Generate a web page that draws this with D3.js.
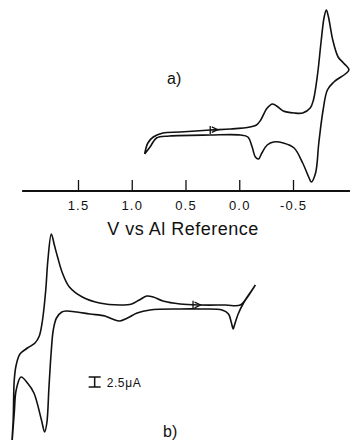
<!DOCTYPE html>
<html>
<head>
<meta charset="utf-8">
<script src="https://cdn.jsdelivr.net/npm/d3@7"></script>
<style>
  html, body { margin: 0; padding: 0; background: #fff; }
  svg { display: block; }
  text { font-family: "Liberation Sans", Arial, Helvetica, sans-serif; fill: #111; }
</style>
</head>
<body>
<svg id="chart" width="350" height="440"></svg>
<script>
// ---- Data (potential in V vs Al reference, current in microamps, cathodic up) ----
// Trace a) : starts at left vertex, upper branch to right vertex, lower branch back
const aPotential = [0.88, 0.85, 0.80, 0.71, 0.55, 0.27, 0.08, -0.10, -0.16, -0.20, -0.26, -0.31, -0.36, -0.41, -0.51, -0.59, -0.66, -0.69, -0.73, -0.76, -0.79, -0.81, -0.83, -0.87, -0.92, -0.97, -1.02,
                    -0.88, -0.82, -0.78, -0.74, -0.71, -0.67, -0.65, -0.59, -0.51, -0.41, -0.32, -0.26, -0.21, -0.18, -0.15, -0.12, -0.08, -0.01, 0.27, 0.65, 0.77, 0.83, 0.88];
const aCurrent   = [-5.25, -2.5, -1.0, 0.0, 0.25, 0.75, 1.0, 1.5, 2.0, 3.25, 6.25, 7.25, 6.5, 5.5, 5.0, 5.0, 6.25, 8.25, 15.0, 22.5, 29.0, 30.75, 29.0, 23.25, 19.0, 17.5, 15.75,
                    12.75, 10.75, 5.75, -2.5, -10.0, -12.25, -11.25, -7.5, -3.75, -2.5, -2.25, -3.0, -5.0, -6.5, -6.0, -3.5, -1.0, -0.5, -0.5, -0.75, -1.25, -3.5, -5.25];

// Trace b) : from negative end, cathodic spike, lower branch to positive vertex, upper branch back
const bPotential = [-0.15, -0.09, -0.04, 0.01, 0.047, 0.056, 0.075, 0.10, 0.16, 0.36, 0.55, 0.83, 0.95, 1.04, 1.11, 1.18, 1.25, 1.39, 1.51, 1.61, 1.65, 1.70, 1.73, 1.75, 1.77, 1.79, 1.81, 1.84, 1.91, 1.97, 2.03, 2.075, 2.093, 2.12,
                    2.103, 2.093, 2.075, 2.04, 1.97, 1.90, 1.86, 1.83, 1.80, 1.78, 1.748, 1.72, 1.69, 1.645, 1.58, 1.46, 1.30, 1.11, 1.00, 0.93, 0.86, 0.80, 0.71, 0.55, 0.36, 0.13, -0.01, -0.08, -0.15];
const bCurrent   = [5.5, 3.0, 1.0, -1.75, -4.75, -5.5, -3.75, -1.75, -0.75, -0.5, -0.5, -0.75, -1.5, -2.75, -3.5, -3.0, -2.25, -1.75, -1.25, -1.0, -1.25, -2.75, -5.75, -11.5, -20.0, -29.0, -31.25, -28.25, -21.5, -19.0, -17.5, -20.75, -26.5, -36.0,
                    -28.25, -18.25, -14.5, -11.75, -10.25, -9.0, -7.25, -3.25, 4.25, 11.75, 18.25, 15.5, 12.5, 8.5, 5.0, 2.5, 1.0, 0.5, 0.75, 1.75, 2.75, 2.5, 1.5, 0.75, 0.5, 0.5, 0.5, 2.75, 5.5];

// Start-of-scan markers (potential of tick, potential of arrow head)
const aStart = [0.27, 0.20];
const bStart = [0.43, 0.36];

// Axis ticks
const tickValues = [1.5, 1.0, 0.5, 0.0, -0.5];
const tickLabels = ["1.5", "1.0", "0.5", "0.0", "-0.5"];
const axisExtent = [2.02, -1.03];
const axisTitle = "V vs Al Reference";

// Scale bar (microamps)
const scaleBarValue = 2.5;
const scaleBarLabel = "2.5\u03BCA";
const panelLabels = ["a)", "b)"];

// ---- Drawing ----
const svg = d3.select("#chart");

const x = d3.scaleLinear().domain([1.5, -0.5]).range([78, 293]);
const yA = d3.scaleLinear().domain([0, 30]).range([133, 13]);
const yB = d3.scaleLinear().domain([0, 30]).range([307, 187]);

const lineA = d3.line().x(d => x(d[0])).y(d => yA(d[1])).curve(d3.curveCatmullRom.alpha(0.5));
const lineB = d3.line().x(d => x(d[0])).y(d => yB(d[1])).curve(d3.curveCatmullRom.alpha(0.5));

svg.append("path")
  .attr("d", lineA(d3.zip(aPotential, aCurrent)))
  .attr("fill", "none").attr("stroke", "#111").attr("stroke-width", 1.6)
  .attr("stroke-linejoin", "round");

svg.append("path")
  .attr("d", lineB(d3.zip(bPotential, bCurrent)))
  .attr("fill", "none").attr("stroke", "#111").attr("stroke-width", 1.6)
  .attr("stroke-linejoin", "round");

// start markers and arrows
function startMarker(start, pot, cur, y) {
  const interp = v => {
    // linear interpolation along the first (upper) branch
    for (let k = 0; k < pot.length - 1; k++) {
      const p0 = pot[k], p1 = pot[k + 1];
      if ((v - p0) * (v - p1) <= 0 && p0 !== p1) {
        const t = (v - p0) / (p1 - p0);
        return cur[k] + t * (cur[k + 1] - cur[k]);
      }
    }
    return 0;
  };
  const tx = x(start[0]), ty = y(interp(start[0]));
  svg.append("line").attr("x1", tx).attr("x2", tx).attr("y1", ty - 4).attr("y2", ty + 4)
    .attr("stroke", "#111").attr("stroke-width", 1.3);
  const ax = x(start[1]), ay = y(interp(start[1]));
  svg.append("path")
    .attr("d", `M${ax - 6},${ay - 2.8} L${ax},${ay} L${ax - 6},${ay + 2.8}`)
    .attr("fill", "none").attr("stroke", "#111").attr("stroke-width", 1.3);
}
startMarker(aStart, aPotential.slice(0, 27), aCurrent.slice(0, 27), yA);
startMarker(bStart, bPotential.slice(44), bCurrent.slice(44), yB);

// Axis
const axisY = 191;
const axisG = svg.append("g").attr("transform", `translate(0,${axisY})`);
axisG.append("line")
  .attr("x1", x(axisExtent[0])).attr("x2", x(axisExtent[1]))
  .attr("stroke", "#111").attr("stroke-width", 1.8);
const axis = d3.axisBottom(x)
  .tickValues(tickValues)
  .tickFormat((d, i) => tickLabels[i])
  .tickSizeInner(-11).tickSizeOuter(0).tickPadding(10);
const ag = axisG.append("g").call(axis);
ag.select(".domain").remove();
ag.selectAll(".tick line").attr("stroke", "#111").attr("stroke-width", 1.3);
ag.selectAll(".tick text")
  .attr("fill", "#111")
  .style("font-family", "'Liberation Sans', Arial, sans-serif")
  .style("font-size", "13px")
  .style("letter-spacing", "1.2px");

svg.append("text")
  .attr("x", 183).attr("y", 235)
  .attr("text-anchor", "middle")
  .style("font-size", "18px").style("letter-spacing", "0.5px")
  .text(axisTitle);

// Panel labels
svg.append("text").attr("x", 167).attr("y", 84).style("font-size", "16px").text(panelLabels[0]);
svg.append("text").attr("x", 163).attr("y", 437).style("font-size", "16px").text(panelLabels[1]);

// Scale bar
const sbV = 1.345, sbBase = -20;
const sbx = x(sbV), sbTop = yB(sbBase + scaleBarValue), sbBot = yB(sbBase);
const sb = svg.append("g").attr("stroke", "#111").attr("stroke-width", 1.5);
sb.append("line").attr("x1", sbx).attr("x2", sbx).attr("y1", sbTop).attr("y2", sbBot);
sb.append("line").attr("x1", sbx - 6).attr("x2", sbx + 6).attr("y1", sbTop).attr("y2", sbTop);
sb.append("line").attr("x1", sbx - 6).attr("x2", sbx + 6).attr("y1", sbBot).attr("y2", sbBot);
svg.append("text").attr("x", sbx + 12).attr("y", sbBot)
  .style("font-size", "12px").style("letter-spacing", "0.6px")
  .text(scaleBarLabel);
</script>
</body>
</html>
